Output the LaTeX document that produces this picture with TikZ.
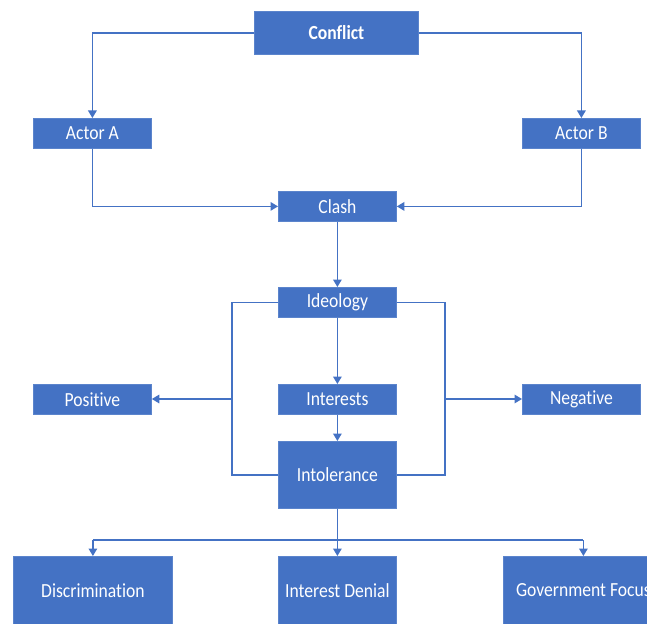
\documentclass[tikz,border=0pt]{standalone}
\usepackage{fontspec}
\setmainfont{Carlito}[Ligatures=NoCommon, FakeStretch=0.88]
\usetikzlibrary{arrows.meta}
\definecolor{boxblue}{HTML}{4472C4}
\definecolor{edgeblue}{HTML}{5B84CC}
\begin{document}
\begin{tikzpicture}[x=1pt,y=-1pt,
  box/.style={draw=edgeblue, line width=0.8pt, fill=boxblue, text=white,
    font=\fontsize{20}{22}\selectfont, inner sep=0pt, anchor=north west,
    minimum width=118pt, minimum height=30pt},
  link/.style={draw=boxblue, line width=1.6pt, -{Triangle[width=8.5pt,length=7.5pt]}},
  plain/.style={draw=boxblue, line width=1.6pt}]
\clip (0,0) rectangle (647,623);
\fill[white] (0,0) rectangle (647,623);
% nodes
\node[box, minimum width=164pt, minimum height=43pt, font=\fontsize{20}{22}\selectfont\bfseries] (conflict) at (254,11) {Conflict};
\node[box] (actorA) at (33,118) {Actor A};
\node[box] (actorB) at (522,118) {Actor B};
\node[box] (clash) at (278,191) {Clash};
\node[box] (ideo) at (278,287) {Ideology};
\node[box] (positive) at (33,384) {Positive};
\node[box] (inter) at (278,384) {Interests};
\node[box] (negative) at (522,384) {Negative};
\node[box, minimum height=67pt] (intol) at (278,441) {Intolerance};
\node[box, minimum width=159pt, minimum height=68pt] (disc) at (13,556) {Discrimination};
\node[box, minimum height=68pt] (denial) at (278,556) {Interest Denial};
\node[box, minimum width=160pt, minimum height=68pt] (gov) at (503,556) {Government Focus};
% coordinates
\coordinate (lb) at (232,399);
\coordinate (rb) at (445,399);
\coordinate (hub) at (337,540);
% connectors
\draw[link] (conflict.west) -| (actorA.north);
\draw[link] (conflict.east) -| (actorB.north);
\draw[link] (actorA.south) |- (clash.west);
\draw[link] (actorB.south) |- (clash.east);
\draw[link] (clash.south) -- (ideo.north);
\draw[link] (ideo.south) -- (inter.north);
\draw[link] (inter.south) -- (intol.north);
\draw[plain] (ideo.west) -| (lb) |- (intol.west);
\draw[plain] (ideo.east) -| (rb) |- (intol.east);
\draw[link] (lb) -- (lb -| positive.east);
\draw[link] (rb) -- (rb -| negative.west);
\draw[plain] (intol.south) -- (intol.south |- hub);
\draw[plain] (hub -| disc.north) -- (hub -| gov.north);
\draw[link] (hub -| disc.north) -- (disc.north);
\draw[link] (hub -| gov.north) -- (gov.north);
\draw[link] (intol.south |- hub) -- (denial.north);
\end{tikzpicture}
\end{document}
